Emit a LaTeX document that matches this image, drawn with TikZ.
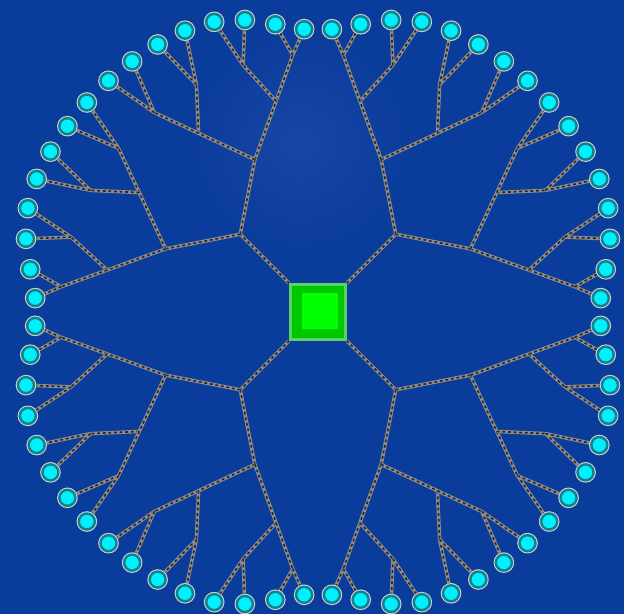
\documentclass[tikz,border=0pt]{standalone}
\definecolor{bgblue}{RGB}{10,60,156}
\definecolor{glow}{RGB}{24,70,165}
\definecolor{leafcyan}{RGB}{0,240,255}
\definecolor{leafrim}{RGB}{20,130,140}
\definecolor{hubdark}{RGB}{0,200,0}
\definecolor{hublight}{RGB}{0,255,0}
\definecolor{hubrim}{RGB}{95,205,105}
\pgfdeclarelayer{bg}
\pgfsetlayers{bg,main}

\begin{document}
\begin{tikzpicture}[x=0.02cm,y=0.02cm,
  leaf/.style={circle,fill=leafcyan,draw=leafrim,line width=1.4pt,
    minimum size=0.32cm,inner sep=0pt,preaction={draw=gray!35,line width=2.6pt}},
  hub/.style={rectangle,fill=hubdark,draw=hubrim,line width=1.4pt,
    minimum size=1.1cm,inner sep=0pt},
  hubcore/.style={rectangle,fill=hublight,minimum size=0.72cm,inner sep=0pt},
  branch/.style={draw=black!85,line width=0.9pt,dash pattern=on 1.6pt off 1.6pt,
    preaction={draw=black!45,line width=2pt,solid}}]

  \useasboundingbox (-318,-302) rectangle (306,312);
  \clip (-318,-302) rectangle (306,312);

  \begin{pgfonlayer}{bg}
    \fill[bgblue] (-318,-302) rectangle (306,312);
    \shade[inner color=glow,outer color=bgblue] (-18,170) circle (110);
  \end{pgfonlayer}

  % centre
  \node[hub] (hub) at (0,0) {};
  \node[hubcore] (hubcore) at (2,1) {};

  % leaves on the rim
  \foreach \q in {0,...,3} {
    \foreach \k in {0,...,15} {
      \pgfmathsetmacro\a{90*\q+5.625*(\k+0.5)}
      \pgfmathsetmacro\r{312-30*cos(2*\a)^8}
      \node[leaf] (q\q-4-\k) at (\a:\r) {};
    }
  }

  % inner forks
  \foreach \q in {0,...,3} {
    \foreach \l/\n/\rr in {0/1/110,1/2/165,2/4/215,3/8/258} {
      \pgfmathtruncatemacro\m{\n-1}
      \foreach \i in {0,...,\m} {
        \pgfmathsetmacro\a{90*\q+90/\n*(\i+0.5)}
        \coordinate (q\q-\l-\i) at (\a:\rr);
      }
    }
  }

  \begin{pgfonlayer}{bg}
    \foreach \q in {0,...,3} {
      \draw[branch] (hub) -- (q\q-0-0);
      \foreach \l/\n in {0/1,1/2,2/4,3/8} {
        \pgfmathtruncatemacro\m{\n-1}
        \pgfmathtruncatemacro\c{\l+1}
        \foreach \i in {0,...,\m} {
          \pgfmathtruncatemacro\j{2*\i}
          \pgfmathtruncatemacro\jj{2*\i+1}
          \draw[branch] (q\q-\l-\i) -- (q\q-\c-\j);
          \draw[branch] (q\q-\l-\i) -- (q\q-\c-\jj);
        }
      }
    }
  \end{pgfonlayer}

\end{tikzpicture}
\end{document}
